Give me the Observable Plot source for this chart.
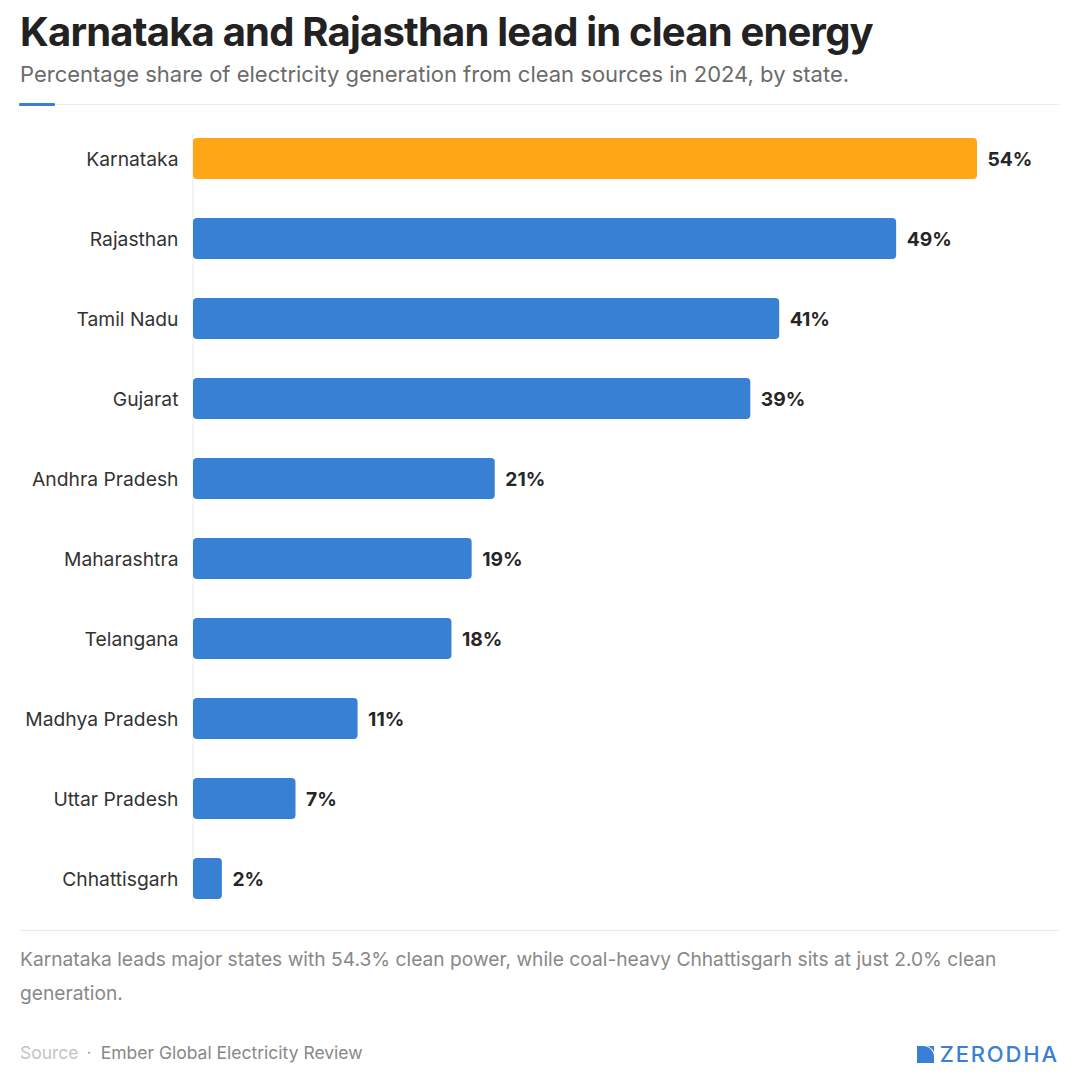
<!DOCTYPE html>
<html>
<head>
<meta charset="utf-8">
<script src="https://cdn.jsdelivr.net/npm/d3@7"></script>
<script src="https://cdn.jsdelivr.net/npm/@observablehq/plot@0.6"></script>
<style>
  html, body { margin: 0; padding: 0; background: #fff; }
  body { font-family: Inter, "Noto Sans", sans-serif; }
  #page { position: relative; width: 1080px; height: 1080px; overflow: hidden; background: #fff; }
  .abs { position: absolute; white-space: nowrap; }
  #title { left: 20px; top: 8px; font-size: 40px; font-weight: 700; color: #222; letter-spacing: -0.8px; line-height: 48px; }
  #subtitle { left: 20px; top: 59px; font-size: 22px; font-weight: 400; color: #6b6b6b; line-height: 30px; }
  #rule { left: 20px; top: 104px; width: 1039px; height: 1px; background: #ebebeb; }
  #accent { left: 19px; top: 103px; width: 36px; height: 3px; background: #3a7fd4; border-radius: 1px; }
  #chart { left: 20px; top: 115px; }
  #rule2 { left: 20px; top: 930px; width: 1039px; height: 1px; background: #ebebeb; }
  #caption { left: 20px; top: 942px; font-size: 19.2px; color: #888; line-height: 34px; white-space: normal; width: 1045px; }
  #source { left: 20px; top: 1041px; font-size: 17.5px; line-height: 24px; color: #888; }
  #source .lbl { color: #c4c4c4; }
  #source .dot { color: #aaa; margin: 0 9px 0 8px; }
  #logo { right: 23px; top: 1042px; display: flex; align-items: center; gap: 6px; color: #3a7fd4; font-size: 22px; font-weight: 500; letter-spacing: 1.8px; line-height: 24px; }
  #logo span { margin-right: -1.8px; }
</style>
</head>
<body>
<div id="page">
  <div class="abs" id="title">Karnataka and Rajasthan lead in clean energy</div>
  <div class="abs" id="subtitle">Percentage share of electricity generation from clean sources in 2024, by state.</div>
  <div class="abs" id="rule"></div>
  <div class="abs" id="accent"></div>
  <div class="abs" id="chart"></div>
  <div class="abs" id="rule2"></div>
  <div class="abs" id="caption">Karnataka leads major states with 54.3% clean power, while coal-heavy Chhattisgarh sits at just 2.0% clean<br>generation.</div>
  <div class="abs" id="source"><span class="lbl">Source</span><span class="dot">·</span>Ember Global Electricity Review</div>
  <div class="abs" id="logo">
    <svg width="17" height="17" viewBox="0 0 17 17"><path d="M0 0 H6 A11 11 0 0 1 17 11 V17 H0 Z" fill="#3a7fd4"/><path d="M11 0 H17 V6 A14 14 0 0 0 11 0 Z" fill="#3a7fd4"/></svg>
    <span>ZERODHA</span>
  </div>
</div>
<script>
const states = ["Karnataka", "Rajasthan", "Tamil Nadu", "Gujarat", "Andhra Pradesh", "Maharashtra", "Telangana", "Madhya Pradesh", "Uttar Pradesh", "Chhattisgarh"];
const shares = [54.3, 48.7, 40.6, 38.6, 20.9, 19.3, 17.9, 11.4, 7.1, 2.0];
const leader = "Karnataka";
const colorKeys = ["lead", "other"];
const colorValues = ["#ffa617", "#3880d4"];

const data = states.map((s, i) => ({state: s, share: shares[i], group: s === leader ? "lead" : "other"}));

const chart = Plot.plot({
  width: 1040,
  height: 800,
  marginLeft: 173,
  marginRight: 83,
  marginTop: 18,
  marginBottom: 12,
  style: {fontFamily: "Inter, 'Noto Sans', sans-serif", background: "transparent", overflow: "visible"},
  x: {domain: [0, d3.max(shares)], axis: null},
  y: {domain: states, paddingInner: 0.4875, paddingOuter: 0.05625, label: null},
  color: {domain: colorKeys, range: colorValues},
  marks: [
    Plot.ruleX([0], {stroke: "#e8e8e8", strokeWidth: 1, dx: -0.5}),
    Plot.barX(data, {x: "share", y: "state", fill: "group", rx: 4}),
    Plot.text(data, {x: "share", y: "state", text: d => `${Math.round(d.share)}%`, textAnchor: "start", dx: 10, dy: 1, fontSize: 19.3, fontWeight: 700, fill: "#262626"}),
    Plot.axisY({tickSize: 0, tickPadding: 15, dy: 1, fontSize: 19.3, color: "#333", label: null})
  ]
});
document.getElementById("chart").appendChild(chart);
</script>
</body>
</html>
